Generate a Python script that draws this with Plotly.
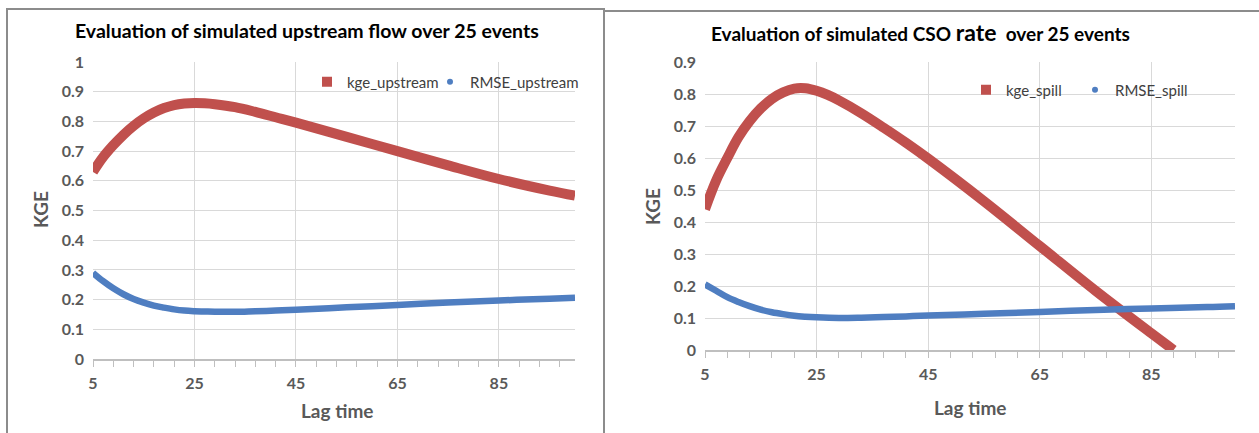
import plotly.graph_objects as go

RED = "#C0504D"
BLUE = "#4F7EC1"
GRID = "#D9D9D9"
TICK = "#595959"
FONT = "Lato, Carlito, sans-serif"

W, H = 1259, 433

# left panel: upstream flow
lag_up = [5, 7, 9, 11, 13, 15, 17, 19, 21, 23, 25, 27, 29, 33, 37, 41, 45, 55, 65, 75, 85, 95, 100]
kge_upstream = [0.63, 0.68, 0.72, 0.755, 0.785, 0.81, 0.83, 0.845, 0.855, 0.86, 0.862, 0.861, 0.858,
                0.848, 0.832, 0.814, 0.796, 0.748, 0.700, 0.652, 0.606, 0.567, 0.55]
rmse_upstream = [0.29, 0.262, 0.238, 0.218, 0.202, 0.19, 0.18, 0.173, 0.167, 0.163, 0.161, 0.160, 0.159,
                 0.159, 0.161, 0.163, 0.166, 0.174, 0.182, 0.19, 0.197, 0.203, 0.206]

# right panel: CSO rate
lag_spill_kge = [5, 7, 9, 11, 13, 15, 17, 19, 21, 23, 25, 27, 29, 33, 37, 41, 45, 55, 65, 75, 85, 89]
kge_spill = [0.44, 0.53, 0.60, 0.665, 0.715, 0.755, 0.785, 0.805, 0.817, 0.818, 0.81, 0.797, 0.78,
             0.74, 0.695, 0.648, 0.598, 0.465, 0.325, 0.185, 0.052, 0.0]
lag_spill_rmse = [5, 7, 9, 11, 13, 15, 17, 19, 21, 23, 25, 29, 33, 37, 41, 45, 55, 65, 75, 85, 95, 100]
rmse_spill = [0.205, 0.185, 0.165, 0.15, 0.137, 0.126, 0.118, 0.112, 0.107, 0.104, 0.102, 0.10, 0.101,
              0.103, 0.105, 0.108, 0.113, 0.119, 0.125, 0.13, 0.134, 0.137]

x_ticks = [5, 25, 45, 65, 85]


def px_x(p):
    return p / W


def px_y(p):
    return 1 - p / H


fig = go.Figure()

# one legend per entry so each label sits where Excel put it
panels = [
    ("x", "y", ("legend", "legend2"), lag_up, kge_upstream, lag_up, rmse_upstream,
     "kge_upstream", "RMSE_upstream"),
    ("x2", "y2", ("legend3", "legend4"), lag_spill_kge, kge_spill, lag_spill_rmse, rmse_spill,
     "kge_spill", "RMSE_spill"),
]
for xa, ya, legs, xk, yk, xr, yr, nk, nr in panels:
    fig.add_trace(go.Scatter(x=xk, y=yk, mode="lines", line=dict(color=RED, width=10, shape="spline"),
                             xaxis=xa, yaxis=ya, showlegend=False))
    fig.add_trace(go.Scatter(x=xr, y=yr, mode="lines", line=dict(color=BLUE, width=6.5, shape="spline"),
                             xaxis=xa, yaxis=ya, showlegend=False))
    # legend entries (marker symbols like the Excel legend)
    fig.add_trace(go.Scatter(x=[None], y=[None], mode="markers", name=nk, legend=legs[0],
                             marker=dict(symbol="square", color=RED, size=10), xaxis=xa, yaxis=ya))
    fig.add_trace(go.Scatter(x=[None], y=[None], mode="markers", name=nr, legend=legs[1],
                             marker=dict(symbol="circle", color=BLUE, size=6), xaxis=xa, yaxis=ya))

xcommon = dict(range=[5, 100], tickvals=x_ticks, showgrid=True, gridcolor=GRID, gridwidth=1,
               showline=True, linecolor="#BFBFBF", linewidth=1.5, ticks="outside", ticklen=6,
               tickcolor="#BFBFBF", minor=dict(tick0=5, dtick=4, ticks="outside", ticklen=6,
                                               tickcolor="#BFBFBF", showgrid=False),
               zeroline=False, tickfont=dict(family=FONT, size=16, color=TICK, weight="bold"),
               ticklabelstandoff=3, fixedrange=True)
ycommon = dict(showgrid=True, gridcolor=GRID, gridwidth=1, showline=False, zeroline=False, ticks="",
               tickfont=dict(family=FONT, size=16, color=TICK, weight="bold"), ticklabelstandoff=8)

legfont = dict(family=FONT, size=15, color="#404040")


def leg(xp, yp):
    return dict(x=px_x(xp), y=px_y(yp), xanchor="left", yanchor="middle", orientation="h",
                font=legfont, itemwidth=30, bgcolor="rgba(0,0,0,0)")


fig.update_layout(
    width=W, height=H,
    margin=dict(l=0, r=0, t=0, b=0, autoexpand=False),
    paper_bgcolor="white", plot_bgcolor="white",
    xaxis=dict(domain=[px_x(93), px_x(575)], anchor="y", **xcommon),
    yaxis=dict(domain=[px_y(359), px_y(62)], anchor="x", range=[0, 1], dtick=0.1, **ycommon),
    xaxis2=dict(domain=[px_x(705), px_x(1235)], anchor="y2", **xcommon),
    yaxis2=dict(domain=[px_y(350), px_y(62)], anchor="x2", range=[0, 0.9], dtick=0.1, **ycommon),
    legend=leg(307, 82),
    legend2=leg(430, 82),
    legend3=leg(966, 90),
    legend4=leg(1075, 90),
    showlegend=True,
)

annos = [
    dict(text="<b>Evaluation of simulated upstream flow over 25 events</b>", x=px_x(307), y=px_y(31),
         font=dict(size=19.5, color="black")),
    dict(text="<b>Evaluation of simulated CSO <span style='font-size:23px'>rate</span>&nbsp; over 25 events</b>",
         x=px_x(920), y=px_y(32), font=dict(size=19, color="black")),
    dict(text="<b>KGE</b>", x=px_x(40), y=px_y(210), textangle=-90, font=dict(size=19, color=TICK)),
    dict(text="<b>KGE</b>", x=px_x(652), y=px_y(207), textangle=-90, font=dict(size=19, color=TICK)),
    dict(text="<b>Lag time</b>", x=px_x(337), y=px_y(410), font=dict(size=19, color=TICK)),
    dict(text="<b>Lag time</b>", x=px_x(970), y=px_y(407), font=dict(size=19, color=TICK)),
]
for a in annos:
    a.update(xref="paper", yref="paper", showarrow=False, xanchor="center", yanchor="middle")
    a["font"]["family"] = FONT
    fig.add_annotation(**a)

# chart-box borders
fig.add_shape(type="rect", xref="paper", yref="paper", x0=px_x(7), x1=px_x(604), y0=-0.05, y1=px_y(9),
              line=dict(color="#8C8C8C", width=2))
fig.add_shape(type="line", xref="paper", yref="paper", x0=px_x(604), x1=1.02, y0=px_y(11), y1=px_y(11),
              line=dict(color="#8C8C8C", width=2))

fig.write_html("out.html", config={"displayModeBar": False},
               post_script="document.body.style.margin='0';")
